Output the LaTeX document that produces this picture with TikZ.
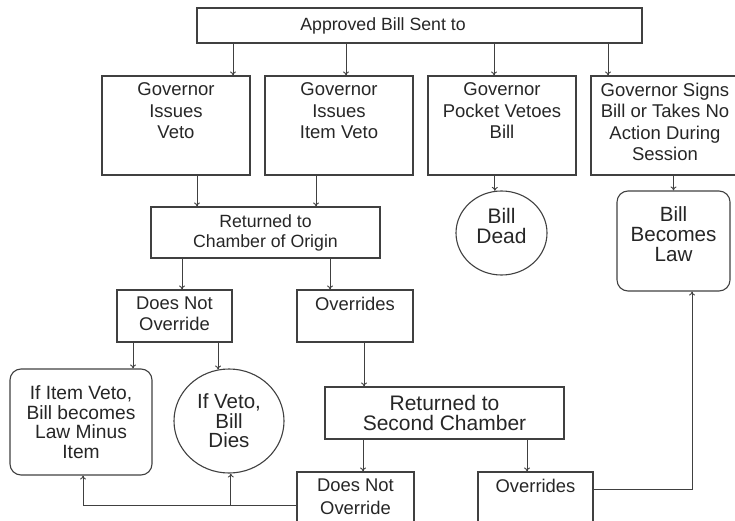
\documentclass[tikz,border=0pt]{standalone}
\usepackage{fontspec}
\setmainfont{Liberation Sans}
\usetikzlibrary{arrows.meta,positioning,shapes.geometric}
\newcommand{\toptext}[3]{\parbox[c][#1][t]{#2}{\centering\vspace*{7pt}#3\par}}

\begin{document}
\begin{tikzpicture}[x=1pt, y=-1pt, node distance=163pt, >={To[length=4pt,width=6pt]},
  box/.style={draw=black!75, line width=1.1pt, inner sep=0pt, text=black!85, align=center},
  govbox/.style={box, font=\fontsize{18.5}{21.5}\selectfont},
  smallbox/.style={box, font=\fontsize{18.4}{21}\selectfont},
  endbox/.style={box, rounded corners=11pt},
  endcircle/.style={box, ellipse},
  link/.style={->, draw=black!75, line width=0.9pt}]
\useasboundingbox (0,0) rectangle (735,521);

% what the governor can do
\node(sent)[box, minimum width=445pt, minimum height=35pt, font=\fontsize{17.7}{20}\selectfont] at (419.5,25.5) {\hspace*{-73pt}Approved Bill Sent to};
\node(veto)[govbox] at (176,125.5) {\toptext{99pt}{148pt}{Governor\\Issues\\Veto}};
\node(itemveto)[govbox, right of=veto] {\toptext{99pt}{148pt}{Governor\\Issues\\Item Veto}};
\node(pocket)[govbox, right of=itemveto] {\toptext{99pt}{148pt}{Governor\\Pocket Vetoes\\Bill}};
\node(signs)[govbox, right of=pocket] {\toptext{99pt}{148pt}{Governor Signs\\Bill or Takes No\\Action During\\Session}};

% back to the chambers
\node(returned)[box, minimum width=229pt, minimum height=51pt, font=\fontsize{17.7}{20}\selectfont] at (265.5,232.5) {Returned to\\Chamber of Origin};
\node(dno)[smallbox] at (174.5,316) {\toptext{52pt}{115pt}{Does Not\\Override}};
\node(ov)[smallbox] at (355,316) {\toptext{52pt}{116pt}{Overrides}};
\node(second)[box, minimum width=239pt, minimum height=52pt, font=\fontsize{21}{19.5}\selectfont] at (444.5,413) {Returned to\\Second Chamber};
\node(dno2)[box, font=\fontsize{18.4}{23}\selectfont] at (355.5,502) {\toptext{60pt}{117pt}{Does Not\\Override}};
\node(ov2)[smallbox] at (535.5,502) {\toptext{60pt}{115pt}{Overrides}};

% outcomes
\node(dead)[endcircle, minimum width=91pt, minimum height=84pt, text depth=14pt, font=\fontsize{21}{20}\selectfont] at (501.5,233) {Bill\\Dead};
\node(law)[endbox, minimum width=113pt, minimum height=100pt, text depth=14pt, font=\fontsize{20.6}{20}\selectfont] at (673.5,241) {Bill\\Becomes\\Law};
\node(itemlaw)[endbox, minimum width=142pt, minimum height=106pt, font=\fontsize{19.2}{19.5}\selectfont] at (81,422) {If Item Veto,\\Bill becomes\\Law Minus\\Item};
\node(dies)[endcircle, minimum width=110pt, minimum height=104pt, font=\fontsize{20.5}{19.5}\selectfont] at (229,421) {If Veto,\\Bill\\Dies};

\draw[link] ([xshift=57pt]veto.north |- sent.south) -- ([xshift=57pt]veto.north);
\draw[link] ([xshift=7pt]itemveto.north |- sent.south) -- ([xshift=7pt]itemveto.north);
\draw[link] ([xshift=-8pt]pocket.north |- sent.south) -- ([xshift=-8pt]pocket.north);
\draw[link] ([xshift=-57pt]signs.north |- sent.south) -- ([xshift=-57pt]signs.north);

\draw[link] ([xshift=21pt]veto.south) -- ([xshift=21pt]veto.south |- returned.north);
\draw[link] ([xshift=-23pt]itemveto.south) -- ([xshift=-23pt]itemveto.south |- returned.north);
\draw[link] (dead.99 |- pocket.south) -- (dead.99);
\draw[link] (law.north |- signs.south) -- (law.north);

\draw[link] ([xshift=7.5pt]dno.north |- returned.south) -- ([xshift=7.5pt]dno.north);
\draw[link] ([xshift=-25pt]ov.north |- returned.south) -- ([xshift=-25pt]ov.north);
\draw[link] ([xshift=52pt]itemlaw.north |- dno.south) -- ([xshift=52pt]itemlaw.north);
\draw[link] (dies.102 |- dno.south) -- (dies.102);
\draw[link] ([xshift=9pt]ov.south) -- ([xshift=9pt]ov.south |- second.north);
\draw[link] ([xshift=7.5pt]dno2.north |- second.south) -- ([xshift=7.5pt]dno2.north);
\draw[link] ([xshift=-8.5pt]ov2.north |- second.south) -- ([xshift=-8.5pt]ov2.north);

\coordinate (join) at ([yshift=-3pt]dno2.west);
\draw[link] (join) -| ([xshift=2pt]itemlaw.south);
\draw[link] (dies.272 |- join) -- (dies.272);
\draw[link] ([yshift=13pt]ov2.east) -| ([xshift=18.5pt]law.south);
\end{tikzpicture}
\end{document}
